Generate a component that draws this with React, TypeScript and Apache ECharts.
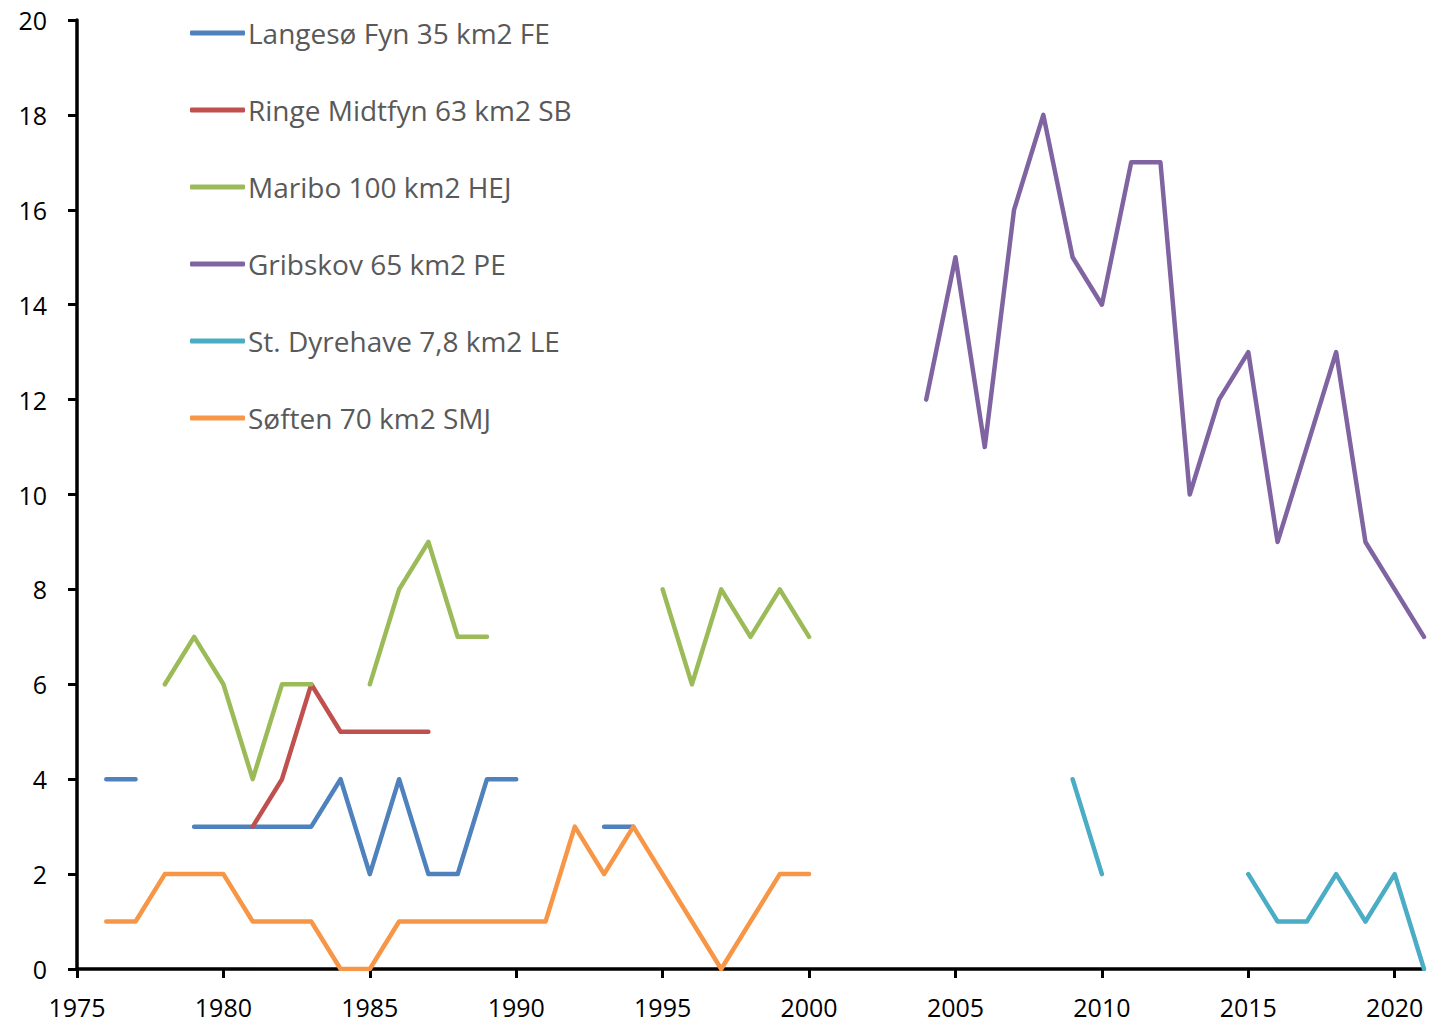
import React, { useEffect, useRef } from "react";
import * as echarts from "echarts";

const xTicks = [1975, 1980, 1985, 1990, 1995, 2000, 2005, 2010, 2015, 2020];
const yTicks = [0, 2, 4, 6, 8, 10, 12, 14, 16, 18, 20];

const seriesNames = [
  "Langesø Fyn 35 km2 FE",
  "Ringe Midtfyn 63 km2 SB",
  "Maribo 100 km2 HEJ",
  "Gribskov 65 km2 PE",
  "St. Dyrehave 7,8 km2 LE",
  "Søften 70 km2 SMJ",
];
const seriesColors = ["#4F81BD", "#C0504D", "#9BBB59", "#8064A2", "#4BACC6", "#F79646"];

// first year of each series
const startYears = [1976, 1981, 1978, 2004, 2009, 1976];

const langeso = [4, 4, null, 3, 3, 3, 3, 3, 4, 2, 4, 2, 2, 4, 4, null, null, 3, 3];
const ringe = [3, 4, 6, 5, 5, 5, 5];
const maribo = [6, 7, 6, 4, 6, 6, null, 6, 8, 9, 7, 7, null, null, null, null, null, 8, 6, 8, 7, 8, 7];
const gribskov = [12, 15, 11, 16, 18, 15, 14, 17, 17, 10, 12, 13, 9, 11, 13, 9, 8, 7];
const dyrehave = [4, 2, null, null, null, null, 2, 1, 1, 2, 1, 2, 0];
const soften = [1, 1, 2, 2, 2, 1, 1, 1, 0, 0, 1, 1, 1, 1, 1, 1, 3, 2, 3, 2, 1, 0, 1, 2, 2];

const seriesValues = [langeso, ringe, maribo, gribskov, dyrehave, soften];

const FONT = "'Open Sans', 'Noto Sans', sans-serif";

export default function App() {
  const ref = useRef<HTMLDivElement>(null);
  useEffect(() => {
    if (!ref.current) return;
    const chart = echarts.init(ref.current, undefined, { renderer: "svg" });
    const series = seriesNames.map((name, i) => ({
      name,
      type: "line",
      symbol: "none",
      connectNulls: false,
      lineStyle: { color: seriesColors[i], width: 4.5, cap: "round", join: "round" },
      itemStyle: { color: seriesColors[i] },
      data: seriesValues[i].map((v, k) => [startYears[i] + k, v === null ? "-" : v]),
    }));
    chart.setOption({
      animation: false,
      backgroundColor: "#fff",
      grid: { left: 77, right: 7, top: 20, bottom: 54, containLabel: false },
      legend: {
        orient: "vertical",
        left: 190,
        top: 16,
        padding: 0,
        icon: "roundRect",
        itemWidth: 55,
        itemHeight: 5,
        itemGap: 43,
        textStyle: { color: "#595959", fontSize: 28, fontFamily: FONT, lineHeight: 34, padding: [0, 0, 0, -2] },
        data: seriesNames,
      },
      xAxis: {
        type: "value",
        min: 1975,
        max: 2021,
        interval: 5,
        splitLine: { show: false },
        axisLine: { lineStyle: { color: "#000", width: 3.5 } },
        axisTick: { show: true, inside: false, length: 9, customValues: xTicks, lineStyle: { color: "#000", width: 3 } },
        axisLabel: {
          color: "#000",
          fontSize: 25,
          fontFamily: FONT,
          margin: 25,
          customValues: xTicks,
          formatter: (v: number) => String(v),
        },
      },
      yAxis: {
        type: "value",
        min: 0,
        max: 20,
        interval: 2,
        splitLine: { show: false },
        axisLine: { show: true, lineStyle: { color: "#000", width: 3.5 } },
        axisTick: { show: true, inside: false, length: 9, lineStyle: { color: "#000", width: 3 } },
        axisLabel: {
          color: "#000",
          fontSize: 25,
          fontFamily: FONT,
          margin: 30,
          formatter: (v: number) => (yTicks.includes(v) ? String(v) : ""),
        },
      },
      series,
    });
    return () => chart.dispose();
  }, []);
  return <div ref={ref} style={{ width: 1431, height: 1023, position: "absolute", left: 0, top: 0 }} />;
}
